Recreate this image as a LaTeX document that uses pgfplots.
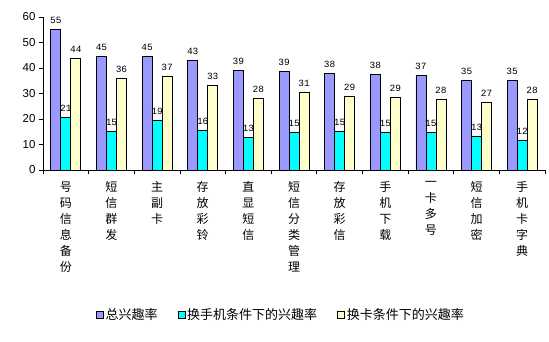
\documentclass[border=0pt]{standalone}
\usepackage{pgfplots}
\pgfplotsset{compat=1.18}
\usepackage{fontspec}
\setmainfont{Liberation Sans}
\newfontfamily\cjk{Noto Sans CJK SC}
\newfontfamily\mono{Liberation Mono}
\definecolor{cA}{HTML}{9999FF}
\definecolor{cB}{HTML}{00FFFF}
\definecolor{cC}{HTML}{FFFFCC}
\begin{document}
\begin{tikzpicture}[x=1pt,y=1pt]
\useasboundingbox (-43pt,-172pt) rectangle (506pt,170pt);
\begin{axis}[
  at={(0,0)}, anchor=south west,
  scale only axis, width=502pt, height=153pt,
  xmin=-0.5, xmax=10.5, ymin=0, ymax=60,
  ytick={0,10,...,60},
  axis x line*=bottom, axis y line*=left,
  axis line style={black, line width=0.8pt},
  xtick={0,...,10},
  xticklabels={{号\\码\\信\\息\\备\\份},{短\\信\\群\\发},{主\\副\\卡},{存\\放\\彩\\铃},{直\\显\\短\\信},{短\\信\\分\\类\\管\\理},{存\\放\\彩\\信},{手\\机\\下\\载},{一\\卡\\多\\号},{短\\信\\加\\密},{手\\机\\卡\\字\\典}},
  xticklabel style={font=\cjk\fontsize{12}{16}\selectfont, align=center, anchor=north, yshift=-4pt},
  major x tick style={draw=none},
  minor xtick={-0.5,0.5,...,10.5},
  minor x tick style={black, line width=0.8pt},
  tick align=outside,
  major tick length=4pt, minor tick length=4pt,
  y tick style={black, line width=0.8pt},
  yticklabel style={font=\fontsize{11.5}{13}\selectfont},
  /pgf/number format/assume math mode=true,
  ybar=0pt, bar width=10pt,
  enlarge x limits=false,
  nodes near coords={\pgfmathprintnumber[fixed,precision=0]{\pgfplotspointmeta}},
  nodes near coords style={font=\mono\fontsize{9.5}{10}\selectfont, black, anchor=south, yshift=2pt},
  legend columns=3,
  legend style={draw=none, fill=none, at={(0.474,-0.948)}, anchor=center, font=\cjk\fontsize{13}{14}\selectfont,
     /tikz/every even column/.append style={column sep=18pt}},
  legend image code/.code={\draw[#1,draw=black,line width=0.6pt] (0pt,-3.5pt) rectangle (7pt,3.5pt);},
]
\addplot[fill=cA, draw=black, line width=0.8pt] coordinates {(0,55.2) (1,44.6) (2,44.6) (3,43.0) (4,39.1) (5,38.8) (6,38.0) (7,37.6) (8,37.1) (9,35.2) (10,35.2)};
\addplot[fill=cB, draw=black, line width=0.8pt] coordinates {(0,20.7) (1,15.2) (2,19.4) (3,15.6) (4,12.8) (5,14.8) (6,15.2) (7,14.6) (8,14.8) (9,13.2) (10,11.6)};
\addplot[fill=cC, draw=black, line width=0.8pt] coordinates {(0,43.8) (1,36.0) (2,36.6) (3,33.2) (4,28.1) (5,30.6) (6,28.9) (7,28.6) (8,27.7) (9,26.6) (10,27.7)};
\legend{总兴趣率,换手机条件下的兴趣率,换卡条件下的兴趣率}
\end{axis}
\end{tikzpicture}
\end{document}
